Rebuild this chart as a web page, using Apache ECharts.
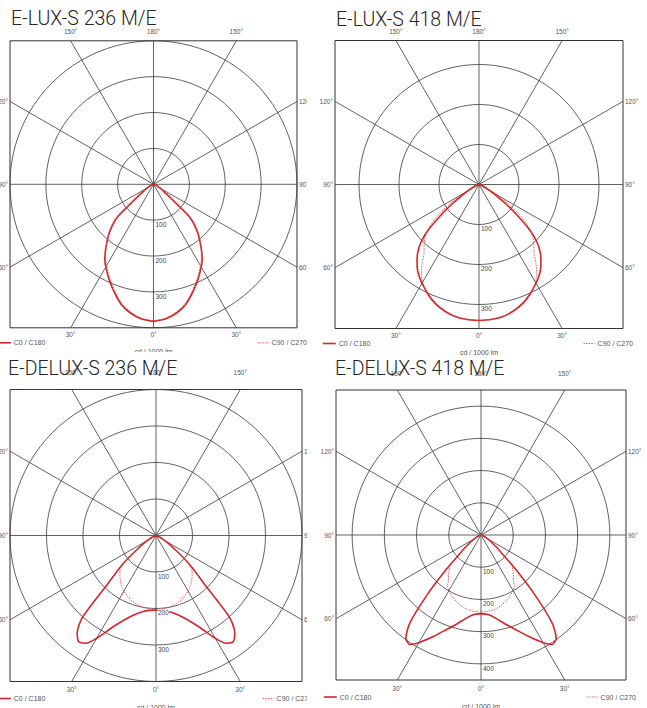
<!DOCTYPE html>
<html>
<head>
<meta charset="utf-8">
<title>Lichtstärkeverteilung</title>
<script src="https://cdn.jsdelivr.net/npm/echarts@6/dist/echarts.min.js"></script>
<style>
  html, body { margin: 0; padding: 0; background: #fff; }
  .panel { position: absolute; overflow: hidden; }
  #p1 { left: 0; top: 0; width: 307px; height: 352px; }
  #p2 { left: 318px; top: 0; width: 329px; height: 357px; }
  #p3 { left: 0; top: 355px; width: 307px; height: 353px; }
  #p4 { left: 318px; top: 355px; width: 329px; height: 353px; }
</style>
</head>
<body>
<div id="p1" class="panel"></div>
<div id="p2" class="panel"></div>
<div id="p3" class="panel"></div>
<div id="p4" class="panel"></div>
<script>
// gamma angles (degrees from nadir) where the curves were read
const gamma = [0, 5, 10, 15, 20, 25, 30, 33, 36, 39, 42, 45, 48, 51, 54, 57, 60, 65, 70, 80, 90];

// cd / 1000 lm, C0/C180 plane (solid) and C90/C270 plane (dotted)
const lux236C0   = [382, 377, 365, 347, 320, 293, 266, 249, 228, 206, 185, 162, 132, 62, 38, 28, 20, 12, 7, 3, 0];
const lux236C90  = [380, 375, 362, 343, 316, 289, 262, 245, 226, 207, 188, 168, 143, 100, 62, 40, 27, 15, 8, 3, 0];
const lux418C0   = [340, 339, 336, 328, 317, 302, 285, 274, 262, 246, 229, 206, 172, 125, 85, 52, 32, 17, 9, 3, 0];
const lux418C90  = [340, 339, 335, 329, 320, 304, 282, 264, 242, 218, 205, 192, 175, 150, 118, 82, 52, 25, 12, 4, 0];
const delux236C0  = [204, 206, 212, 224, 244, 275, 325, 352, 360, 343, 300, 185, 138, 98, 60, 40, 28, 15, 8, 3, 0];
const delux236C90 = [203, 202, 200, 196, 191, 184, 176, 170, 163, 156, 148, 140, 128, 98, 60, 40, 28, 15, 8, 3, 0];
const delux418C0  = [244, 248, 262, 285, 312, 347, 386, 405, 397, 350, 250, 160, 95, 68, 46, 34, 25, 14, 8, 3, 0];
const delux418C90 = [239, 238, 235, 229, 221, 211, 199, 190, 172, 160, 148, 136, 95, 68, 46, 34, 25, 14, 8, 3, 0];

const titles = ['E-LUX-S 236 M/E', 'E-LUX-S 418 M/E', 'E-DELUX-S 236 M/E', 'E-DELUX-S 418 M/E'];
const axisMax = [400, 360, 400, 450];
const ringValues = [[100, 200, 300], [100, 200, 300], [100, 200, 300], [100, 200, 300, 400]];

const spokeAngles = [0, 30, 60, 90, 120, 150, 180, 210, 240, 270, 300, 330];
const angleLabels = ['0°', '30°', '60°', '90°', '120°', '150°', '180°', '150°', '120°', '90°', '60°', '30°'];

const legendNames = ['C0 / C180', 'C90 / C270'];
const unitLabel = 'cd / 1000 lm';

const curves = [
  [lux236C0, lux236C90],
  [lux418C0, lux418C90],
  [delux236C0, delux236C90],
  [delux418C0, delux418C90]
];

// panel placement, local to each panel div
const layout = [
  { el: 'p1', w: 307, cx: 153.5, cy: 184.3, half: 143.5, tx: 11, ty: 8.5, topGap: 9, botGap: 6.5, legGap: 15.5, unitGap: 24 },
  { el: 'p2', w: 329, cx: 161, cy: 184.5, half: 144, tx: 18, ty: 9, topGap: 9, botGap: 7, legGap: 15.5, unitGap: 23.5 },
  { el: 'p3', w: 307, cx: 156, cy: 180.5, half: 146, tx: 8, ty: 3.5, topGap: 17.5, botGap: 8, legGap: 17.5, unitGap: 26 },
  { el: 'p4', w: 329, cx: 163, cy: 180, half: 145, tx: 17, ty: 3.5, topGap: 16.5, botGap: 8, legGap: 17.5, unitGap: 26 }
];

const gridColor = '#3a3a3a';
const labelFont = 'Liberation Sans, Arial, sans-serif';
const solidStyle = { color: '#d3262b', width: 1.6, type: 'solid' };
const dottedStyle = { color: '#df4447', width: 0.9, type: [1.4, 1.2] };
const noSymbol = { color: 'rgba(0,0,0,0)', borderColor: 'rgba(0,0,0,0)', borderWidth: 0 };

function curve(vals) {
  const pts = [];
  for (let i = 0; i < gamma.length; i++) pts.push([vals[i], gamma[i]]);
  for (let i = gamma.length - 1; i >= 0; i--) pts.push([vals[i], 360 - gamma[i]]);
  return pts;
}

function buildOption(i) {
  const L = layout[i];
  const M = axisMax[i];
  const left = L.cx - L.half, right = L.cx + L.half;
  const top = L.cy - L.half, bottom = L.cy + L.half;

  // rings only on whole hundreds; the clipped top value gets no ring
  const ticks = [];
  for (let v = 0; v <= M; v += 100) ticks.push(v);
  if (M % 100) ticks.push(M);
  const ringColors = ticks.map(v => (v > 0 && v % 100 === 0) ? gridColor : 'rgba(0,0,0,0)');

  // point where a spoke meets the square frame
  function edgePoint(api, angle) {
    const c = api.coord([0, angle]);
    const p = api.coord([M, angle]);
    const dx = p[0] - c[0], dy = p[1] - c[1];
    const t = Math.hypot(dx, dy) / Math.max(Math.abs(dx), Math.abs(dy));
    return { c: c, x: c[0] + dx * t, y: c[1] + dy * t, dx: dx, dy: dy };
  }

  return {
    animation: false,
    title: {
      text: titles[i],
      left: L.tx,
      top: L.ty,
      padding: 0,
      textStyle: { fontFamily: 'Roboto', fontWeight: 300, fontSize: 19.5, color: '#262626' }
    },
    polar: { center: [L.cx, L.cy], radius: L.half },
    angleAxis: {
      type: 'value', min: 0, max: 360, interval: 30,
      startAngle: 270, clockwise: true,
      axisLine: { show: false }, axisTick: { show: false },
      axisLabel: { show: false }, splitLine: { show: false }
    },
    radiusAxis: {
      type: 'value', min: 0, max: M, interval: 100,
      axisLine: { show: false }, axisTick: { show: false }, axisLabel: { show: false },
      splitLine: { show: true, lineStyle: { color: ringColors, width: 0.8 } }
    },
    legend: [
      {
        data: [legendNames[0]], left: left - 13, top: bottom + L.legGap - 4,
        padding: 0, itemWidth: 13, itemHeight: 7, itemGap: 0,
        itemStyle: noSymbol, lineStyle: solidStyle,
        textStyle: { fontSize: 7, color: '#555', fontFamily: labelFont, padding: [0, 0, 0, -2] }
      },
      {
        data: [legendNames[1]], right: L.w - (right + 10), top: bottom + L.legGap - 4,
        padding: 0, itemWidth: 11, itemHeight: 7, itemGap: 0,
        itemStyle: noSymbol, lineStyle: dottedStyle,
        textStyle: { fontSize: 7, color: '#555', fontFamily: labelFont, padding: [0, 0, 0, -2] }
      }
    ],
    graphic: [
      {
        type: 'rect', z: 0,
        shape: { x: left, y: top, width: 2 * L.half, height: 2 * L.half },
        style: { fill: 'none', stroke: '#333', lineWidth: 1 }
      },
      {
        type: 'text', x: L.cx, y: bottom + L.unitGap,
        style: {
          text: unitLabel, align: 'center', verticalAlign: 'middle',
          textAlign: 'center', textVerticalAlign: 'middle',
          fontSize: 7, fontFamily: labelFont, fill: '#555'
        }
      }
    ],
    series: [
      {
        type: 'custom', coordinateSystem: 'polar', silent: true, z: 1,
        data: spokeAngles.map(a => [M, a]),
        renderItem: function (params, api) {
          const e = edgePoint(api, api.value(1));
          return {
            type: 'line',
            shape: { x1: e.c[0], y1: e.c[1], x2: e.x, y2: e.y },
            style: { stroke: gridColor, lineWidth: 0.8 }
          };
        }
      },
      {
        type: 'custom', coordinateSystem: 'polar', silent: true, z: 1,
        data: spokeAngles.map(a => [M, a]),
        renderItem: function (params, api) {
          const e = edgePoint(api, api.value(1));
          let x = e.x, y = e.y, align = 'center';
          if (Math.abs(e.dy) >= Math.abs(e.dx)) {
            y += e.dy < 0 ? -L.topGap : L.botGap;
          } else if (e.dx < 0) {
            x -= 2; align = 'right';
          } else {
            x += 2; align = 'left';
          }
          return {
            type: 'text',
            style: {
              text: angleLabels[params.dataIndex], x: x, y: y,
              align: align, verticalAlign: 'middle',
              fill: '#555', fontSize: 6.5, fontFamily: labelFont
            }
          };
        }
      },
      {
        type: 'line', name: legendNames[0], coordinateSystem: 'polar',
        data: curve(curves[i][0]), symbol: 'none', smooth: 0.25, clip: false, z: 3,
        itemStyle: { color: solidStyle.color },
        lineStyle: solidStyle
      },
      {
        type: 'line', name: legendNames[1], coordinateSystem: 'polar',
        data: curve(curves[i][1]), symbol: 'none', smooth: 0.25, clip: false, z: 3,
        itemStyle: { color: dottedStyle.color },
        lineStyle: dottedStyle
      },
      {
        type: 'custom', coordinateSystem: 'polar', silent: true, z: 5,
        data: ringValues[i].map(v => [v, 0]),
        renderItem: function (params, api) {
          const p = api.coord([api.value(0), 0]);
          return {
            type: 'text',
            style: {
              text: String(api.value(0)), x: p[0] + 1.5, y: p[1] + 0.8,
              align: 'left', verticalAlign: 'top',
              fill: '#444', fontSize: 6.5, fontFamily: labelFont,
              backgroundColor: '#fff', padding: [0, 0.5]
            }
          };
        }
      }
    ]
  };
}

for (let i = 0; i < layout.length; i++) {
  const chart = echarts.init(document.getElementById(layout[i].el), null, { renderer: 'svg' });
  chart.setOption(buildOption(i));
}
</script>
</body>
</html>
